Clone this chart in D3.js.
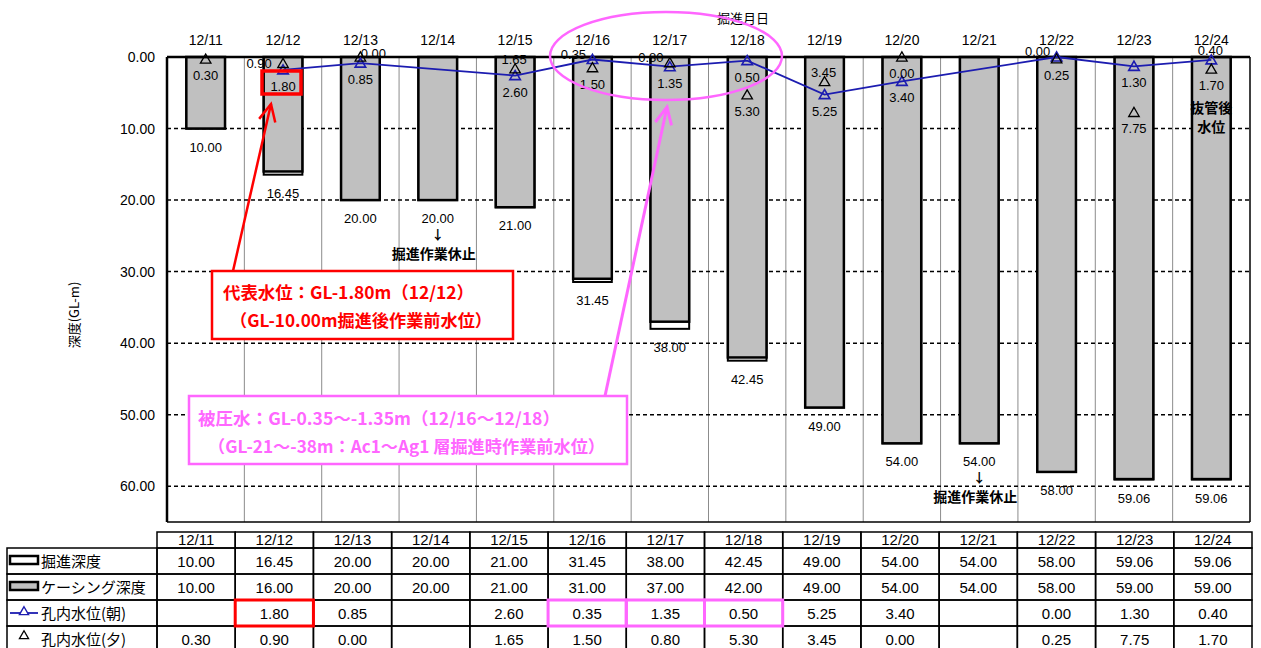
<!DOCTYPE html>
<html><head><meta charset="utf-8">
<script src="https://cdn.jsdelivr.net/npm/d3@7"></script>
<style>
html,body{margin:0;padding:0;background:#fff;}
svg{display:block;}
</style></head>
<body>
<svg id="chart" width="1261" height="648"></svg>
<script>
// ---------- data ----------
const dates = ["12/11","12/12","12/13","12/14","12/15","12/16","12/17","12/18","12/19","12/20","12/21","12/22","12/23","12/24"];
const excavationDepth = [10.00,16.45,20.00,20.00,21.00,31.45,38.00,42.45,49.00,54.00,54.00,58.00,59.06,59.06];
const casingDepth     = [10.00,16.00,20.00,20.00,21.00,31.00,37.00,42.00,49.00,54.00,54.00,58.00,59.00,59.00];
const waterMorning    = [null,1.80,0.85,null,2.60,0.35,1.35,0.50,5.25,3.40,null,0.00,1.30,0.40];
const waterEvening    = [0.30,0.90,0.00,null,1.65,1.50,0.80,5.30,3.45,0.00,null,0.25,7.75,1.70];
const yTicks = [0,10,20,30,40,50,60];
const rowNames = ["掘進深度","ケーシング深度","孔内水位(朝)","孔内水位(夕)"];
const xTitle = "掘進月日";
const yTitle = "深度(GL-m)";
const pauseNotes = ["12/14","12/21"];
const pauseText = "掘進作業休止";
const pullNote = ["抜管後","水位"];
const redNote = ["代表水位：GL-1.80m（12/12）","（GL-10.00m掘進後作業前水位）"];
const pinkNote = ["被圧水：GL-0.35～-1.35m（12/16～12/18）","（GL-21～-38m：Ac1～Ag1 層掘進時作業前水位）"];
const redDates = ["12/12"];
const pinkDates = ["12/16","12/17","12/18"];
// label placement keywords (style)
const morningPos = [null,"below","below",null,"below","upleft","below","below","below","below",null,"upleft","below","above"];
const eveningPos = ["below","left","upright",null,"above","below","upleft","below","above","below",null,"below","below","below"];

// ---------- setup ----------
const svg = d3.select("#chart");
const LAT = "'Liberation Sans', Arial, sans-serif";
const CJK = "'Noto Sans CJK JP', 'Noto Sans', sans-serif";
const NARROW = "'Liberation Sans Narrow', 'Liberation Sans', Arial, sans-serif";
const BLUE = "#1c1cb0", RED = "#ff0000", PINK = "#ff66ff";

const x = d3.scaleBand().domain(dates).range([167, 1250]).paddingInner(0).paddingOuter(0);
const y = d3.scaleLinear().domain([0, 65]).range([57, 522]);
const bw = x.bandwidth() * 0.5;
const cx = d => x(d) + x.bandwidth() / 2;

// vertical grid at category boundaries
svg.append("g").selectAll("line").data(dates.slice(1)).join("line")
  .attr("x1", d => x(d)).attr("x2", d => x(d))
  .attr("y1", y(0)).attr("y2", y(65))
  .attr("stroke", "#8c8c8c").attr("stroke-width", 1);

// horizontal dashed grid
svg.append("g").selectAll("line").data(yTicks.filter(v => v > 0)).join("line")
  .attr("x1", 167).attr("x2", 1250)
  .attr("y1", d => y(d)).attr("y2", d => y(d))
  .attr("stroke", "#000").attr("stroke-width", 1.5).attr("stroke-dasharray", "4,3");

// excavation bars (white)
svg.append("g").selectAll("rect").data(dates).join("rect")
  .attr("x", d => cx(d) - bw / 2).attr("width", bw)
  .attr("y", y(0)).attr("height", (d, i) => y(excavationDepth[i]) - y(0))
  .attr("fill", "#fff").attr("stroke", "#000").attr("stroke-width", 2);
// casing bars (gray)
svg.append("g").selectAll("rect").data(dates).join("rect")
  .attr("x", d => cx(d) - bw / 2).attr("width", bw)
  .attr("y", y(0)).attr("height", (d, i) => y(casingDepth[i]) - y(0))
  .attr("fill", "#c0c0c0").attr("stroke", "#000").attr("stroke-width", 2.5);

// frame
svg.append("line").attr("x1", 167).attr("x2", 1250).attr("y1", y(0)).attr("y2", y(0)).attr("stroke", "#000").attr("stroke-width", 2.5);
svg.append("line").attr("x1", 167).attr("x2", 1250).attr("y1", y(65)).attr("y2", y(65)).attr("stroke", "#000").attr("stroke-width", 1.5);
svg.append("line").attr("x1", 1250).attr("x2", 1250).attr("y1", y(0)).attr("y2", y(65)).attr("stroke", "#000").attr("stroke-width", 1.5);
svg.append("line").attr("x1", 167).attr("x2", 167).attr("y1", y(0)).attr("y2", y(65)).attr("stroke", "#000").attr("stroke-width", 2.5);

// axes
const yAxis = svg.append("g").attr("transform", "translate(167,0)")
  .call(d3.axisLeft(y).tickValues(yTicks).tickFormat(d3.format(".2f")).tickSize(0).tickPadding(12));
yAxis.select(".domain").remove();
yAxis.selectAll("text").attr("font-family", LAT).attr("font-size", 14).attr("fill", "#000");

const xAxis = svg.append("g").attr("transform", "translate(0," + y(0) + ")")
  .call(d3.axisTop(x).tickSize(0).tickPadding(12));
xAxis.select(".domain").remove();
xAxis.selectAll("text").attr("font-family", LAT).attr("font-size", 14).attr("fill", "#000");

svg.append("text").attr("x", 743).attr("y", 23).attr("text-anchor", "middle")
  .attr("font-family", CJK).attr("font-size", 13).text(xTitle);
svg.append("text").attr("transform", "translate(79,315) rotate(-90)").attr("text-anchor", "middle")
  .attr("font-family", CJK).attr("font-size", 13).text(yTitle);

// excavation depth labels
svg.append("g").selectAll("text").data(dates).join("text")
  .attr("x", d => cx(d)).attr("y", (d, i) => y(excavationDepth[i]) + 23)
  .attr("text-anchor", "middle").attr("font-family", LAT).attr("font-size", 13)
  .text((d, i) => excavationDepth[i].toFixed(2));

// pause notes
pauseNotes.forEach(d => {
  const i = dates.indexOf(d);
  const base = y(excavationDepth[i]) + 18;
  svg.append("text").attr("x", cx(d)).attr("y", base + 21).attr("text-anchor", "middle")
    .attr("font-family", CJK).attr("font-size", 13).attr("font-weight", "bold").text("↓");
  svg.append("text").attr("x", cx(d) - 4).attr("y", base + 41).attr("text-anchor", "middle")
    .attr("font-family", CJK).attr("font-size", 14).attr("font-weight", "bold").text(pauseText);
});

// morning line
const mPts = dates.map((d, i) => ({ d, v: waterMorning[i], p: morningPos[i] })).filter(o => o.v !== null);
svg.append("path").datum(mPts)
  .attr("d", d3.line().x(o => cx(o.d)).y(o => y(o.v)))
  .attr("fill", "none").attr("stroke", BLUE).attr("stroke-width", 1.8);
const tri = d3.symbol().type(d3.symbolTriangle).size(48);
svg.append("g").selectAll("path").data(mPts).join("path")
  .attr("d", tri).attr("transform", o => `translate(${cx(o.d)},${y(o.v) + 1})`)
  .attr("fill", "none").attr("stroke", BLUE).attr("stroke-width", 1.6);

const ePts = dates.map((d, i) => ({ d, v: waterEvening[i], p: eveningPos[i] })).filter(o => o.v !== null);
svg.append("g").selectAll("path").data(ePts).join("path")
  .attr("d", tri).attr("transform", o => `translate(${cx(o.d)},${y(o.v) + 1})`)
  .attr("fill", "none").attr("stroke", "#000").attr("stroke-width", 1.3);

const off = {
  below: [0, 16], above: [-1, -10], upleft: [-19, -6], upright: [13, -4], left: [-24, 0]
};
svg.append("g").selectAll("text").data(mPts.concat(ePts)).join("text")
  .attr("x", o => cx(o.d) + off[o.p][0]).attr("y", o => y(o.v) + off[o.p][1] + 5)
  .attr("text-anchor", "middle").attr("font-family", LAT).attr("font-size", 13)
  .text(o => o.v.toFixed(2));

// pull-out note
pullNote.forEach((t, k) => {
  svg.append("text").attr("x", cx("12/24")).attr("y", 113 + k * 19).attr("text-anchor", "middle")
    .attr("font-family", CJK).attr("font-size", 14).attr("font-weight", "bold").text(t);
});

// ---------- annotations ----------
svg.append("rect").attr("x", 262).attr("y", 71).attr("width", 39).attr("height", 23)
  .attr("fill", "none").attr("stroke", RED).attr("stroke-width", 3.5);
svg.append("rect").attr("x", 212).attr("y", 271).attr("width", 301).attr("height", 68)
  .attr("fill", "#fff").attr("stroke", RED).attr("stroke-width", 2.5);
svg.append("text").attr("x", 223).attr("y", 299).attr("font-family", CJK).attr("font-weight", "bold")
  .attr("font-size", 17).attr("fill", RED).attr("textLength", 251).attr("lengthAdjust", "spacingAndGlyphs").text(redNote[0]);
svg.append("text").attr("x", 230).attr("y", 327).attr("font-family", CJK).attr("font-weight", "bold")
  .attr("font-size", 17).attr("fill", RED).attr("textLength", 262).attr("lengthAdjust", "spacingAndGlyphs").text(redNote[1]);
function arrow(x1, y1, x2, y2, color, w) {
  svg.append("line").attr("x1", x1).attr("y1", y1).attr("x2", x2).attr("y2", y2)
    .attr("stroke", color).attr("stroke-width", w);
  const a = Math.atan2(y1 - y2, x1 - x2), L = 19, s = 0.45;
  svg.append("path")
    .attr("d", `M${x2 + L * Math.cos(a - s)},${y2 + L * Math.sin(a - s)}L${x2},${y2}L${x2 + L * Math.cos(a + s)},${y2 + L * Math.sin(a + s)}`)
    .attr("fill", "none").attr("stroke", color).attr("stroke-width", w);
}
arrow(233, 271, 271, 104, RED, 2.5);

svg.append("ellipse").attr("cx", 666).attr("cy", 56).attr("rx", 116).attr("ry", 44)
  .attr("fill", "none").attr("stroke", PINK).attr("stroke-width", 2.5);
svg.append("rect").attr("x", 189).attr("y", 396).attr("width", 438).attr("height", 68)
  .attr("fill", "#fff").attr("stroke", PINK).attr("stroke-width", 2.5);
svg.append("text").attr("x", 198).attr("y", 425).attr("font-family", CJK).attr("font-weight", "bold")
  .attr("font-size", 17).attr("fill", PINK).attr("textLength", 362).attr("lengthAdjust", "spacingAndGlyphs").text(pinkNote[0]);
svg.append("text").attr("x", 208).attr("y", 453).attr("font-family", CJK).attr("font-weight", "bold")
  .attr("font-size", 17).attr("fill", PINK).attr("textLength", 397).attr("lengthAdjust", "spacingAndGlyphs").text(pinkNote[1]);
arrow(605, 396, 667, 107, PINK, 3);

// ---------- table ----------
const tx = d3.scaleBand().domain(dates).range([157, 1252]);
const tTop = 532, hH = 16, rH = 26;
const rowY = k => tTop + hH + k * rH;
const tg = svg.append("g");
tg.selectAll("rect.h").data(dates).join("rect").attr("class", "h")
  .attr("x", d => tx(d)).attr("y", tTop).attr("width", tx.bandwidth()).attr("height", hH)
  .attr("fill", "none").attr("stroke", "#000").attr("stroke-width", 1.5);
tg.selectAll("text.h").data(dates).join("text").attr("class", "h")
  .attr("x", d => tx(d) + tx.bandwidth() / 2).attr("y", tTop + 13).attr("text-anchor", "middle")
  .attr("font-family", NARROW).attr("font-size", 15).text(d => d);
const rows = [excavationDepth, casingDepth, waterMorning, waterEvening];
rows.forEach((arr, k) => {
  tg.append("rect").attr("x", 7).attr("y", rowY(k)).attr("width", 150).attr("height", rH)
    .attr("fill", "none").attr("stroke", "#000").attr("stroke-width", 1.5);
  tg.selectAll("rect.r" + k).data(dates).join("rect").attr("class", "r" + k)
    .attr("x", d => tx(d)).attr("y", rowY(k)).attr("width", tx.bandwidth()).attr("height", rH)
    .attr("fill", "none").attr("stroke", "#000").attr("stroke-width", 1.5);
  tg.selectAll("text.r" + k).data(dates).join("text").attr("class", "r" + k)
    .attr("x", d => tx(d) + tx.bandwidth() / 2).attr("y", rowY(k) + 19).attr("text-anchor", "middle")
    .attr("font-family", NARROW).attr("font-size", 15)
    .text((d, i) => arr[i] === null ? "" : arr[i].toFixed(2));
  tg.append("text").attr("x", 41).attr("y", rowY(k) + 19).attr("font-family", CJK).attr("font-size", 15)
    .text(rowNames[k]);
});
tg.append("rect").attr("x", 10).attr("y", rowY(0) + 8).attr("width", 28).attr("height", 8)
  .attr("fill", "#fff").attr("stroke", "#000").attr("stroke-width", 2.5);
tg.append("rect").attr("x", 10).attr("y", rowY(1) + 8).attr("width", 28).attr("height", 8)
  .attr("fill", "#c0c0c0").attr("stroke", "#000").attr("stroke-width", 2.5);
tg.append("line").attr("x1", 10).attr("x2", 38).attr("y1", rowY(2) + 13).attr("y2", rowY(2) + 13)
  .attr("stroke", BLUE).attr("stroke-width", 1.8);
tg.append("path").attr("d", d3.symbol().type(d3.symbolTriangle).size(36))
  .attr("transform", `translate(24,${rowY(2) + 12})`).attr("fill", "#fff").attr("stroke", BLUE).attr("stroke-width", 1.4);
tg.append("path").attr("d", d3.symbol().type(d3.symbolTriangle).size(36))
  .attr("transform", `translate(24,${rowY(3) + 10})`).attr("fill", "none").attr("stroke", "#000").attr("stroke-width", 1.3);
tg.selectAll("rect.red").data(redDates).join("rect").attr("class", "red")
  .attr("x", d => tx(d)).attr("y", rowY(2)).attr("width", tx.bandwidth()).attr("height", rH)
  .attr("fill", "none").attr("stroke", RED).attr("stroke-width", 3);
tg.selectAll("rect.pink").data(pinkDates).join("rect").attr("class", "pink")
  .attr("x", d => tx(d)).attr("y", rowY(2)).attr("width", tx.bandwidth()).attr("height", rH)
  .attr("fill", "none").attr("stroke", PINK).attr("stroke-width", 3);
</script>
</body></html>
